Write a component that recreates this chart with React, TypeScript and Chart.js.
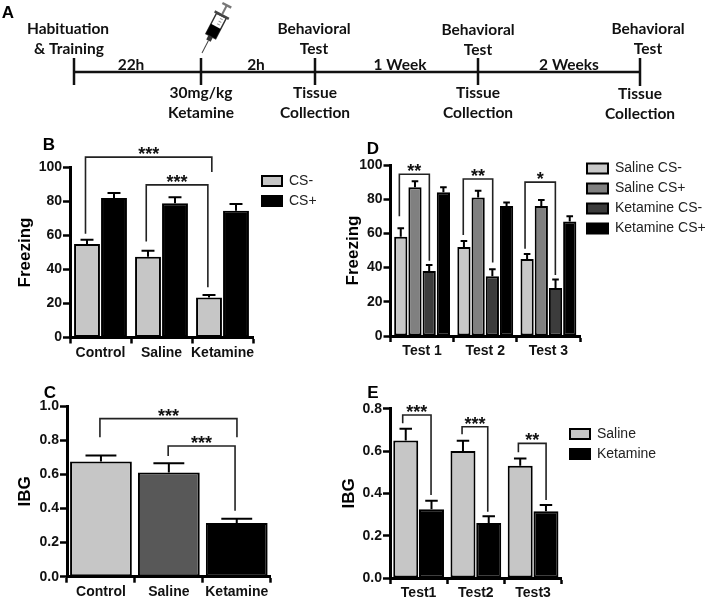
import React, { useEffect, useRef } from "react";
import { Chart, registerables } from "chart.js";

Chart.register(...registerables);

// ---------- Data ----------
const groupsB = ["Control", "Saline", "Ketamine"];
const csMinusB = [55, 47.5, 23.5];
const csMinusTopB = [57.5, 51, 25];
const csPlusB = [82, 79, 74.5];
const csPlusTopB = [85, 82.5, 78.5];

const groupsC = ["Control", "Saline", "Ketamine"];
const ibgC = [0.675, 0.61, 0.315];
const ibgTopC = [0.71, 0.665, 0.34];

const testsD = ["Test 1", "Test 2", "Test 3"];
const salineMinusD = [58, 52, 45];
const salineMinusTopD = [63, 55.5, 48];
const salinePlusD = [87, 81, 76];
const salinePlusTopD = [90.5, 85, 79.5];
const ketMinusD = [38, 35, 28];
const ketMinusTopD = [41.5, 39, 33];
const ketPlusD = [84, 76, 67];
const ketPlusTopD = [87, 78, 70];

const testsE = ["Test1", "Test2", "Test3"];
const salineE = [0.65, 0.6, 0.53];
const salineTopE = [0.705, 0.648, 0.565];
const ketamineE = [0.325, 0.26, 0.315];
const ketamineTopE = [0.365, 0.292, 0.345];

// bracket: [x from, x to, y left foot, y top, y right foot], in axis units
type Bracket = { span: number[]; stars: string };
const bracketsB: Bracket[] = [
  { span: [-0.246, 1.825, 61, 106.1, 97.3], stars: "***" },
  { span: [0.75, 1.76, 56.4, 89.8, 29.6], stars: "***" },
];
const bracketsC: Bracket[] = [
  { span: [-0.015, 2.003, 0.817, 0.926, 0.817], stars: "***" },
  { span: [0.99, 1.975, 0.707, 0.766, 0.387], stars: "***" },
];
const bracketsD: Bracket[] = [
  { span: [-0.36, 0.115, 70, 94.6, 44], stars: "**" },
  { span: [0.652, 1.118, 59, 91.8, 43], stars: "**" },
  { span: [1.63, 2.11, 51, 90, 35.7], stars: "*" },
];
const bracketsE: Bracket[] = [
  { span: [-0.278, 0.217, 0.731, 0.77, 0.392], stars: "***" },
  { span: [0.759, 1.208, 0.679, 0.715, 0.313], stars: "***" },
  { span: [1.743, 2.227, 0.594, 0.636, 0.369], stars: "**" },
];

// timeline, in the 708x130 units of panel A
const stops = [74, 201, 315, 478, 640];
const stopTickTop = [58, 58, 58, 58, 58];
const stopTickBottom = [85, 85, 85, 85, 86];
const timelineLabels: [string, number, number][] = [
  ["Habituation", 68, 29],
  ["& Training", 69, 49],
  ["22h", 131, 65],
  ["2h", 256, 65],
  ["1 Week", 400, 65],
  ["2 Weeks", 569, 65],
  ["Behavioral", 314, 29],
  ["Test", 314, 49],
  ["Behavioral", 478, 30],
  ["Test", 478, 50],
  ["Behavioral", 648, 29],
  ["Test", 648, 49],
  ["30mg/kg", 201, 93],
  ["Ketamine", 201, 113],
  ["Tissue", 315, 93],
  ["Collection", 315, 113],
  ["Tissue", 478, 93],
  ["Collection", 478, 113],
  ["Tissue", 640, 94],
  ["Collection", 640, 114],
];

const GREY_L = "#c6c6c6";
const SANS = "'Liberation Sans', Arial, sans-serif";

type Panel = {
  letter: string;
  letterAt: [number, number];
  box: [number, number, number, number];
  plot: [number, number, number, number]; // left, top, right, bottom in page pixels
  labels: string[];
  datasets: any[];
  max: number;
  step: number;
  decimals: number;
  title: string;
  titlePad: number;
  brackets: Bracket[];
  legendAt?: [number, number];
  legendBox?: number;
  categoryPercentage: number;
  barPercentage: number;
};

function series(label: string, data: number[], tops: number[], color: string) {
  return { label, data, tops, backgroundColor: color, borderColor: "#000", borderWidth: 2, borderSkipped: false };
}

const panels: Panel[] = [
  {
    letter: "B", letterAt: [49, 150], box: [0, 130, 345, 240], plot: [70, 167.5, 253, 337.5],
    labels: groupsB,
    datasets: [series("CS-", csMinusB, csMinusTopB, GREY_L), series("CS+", csPlusB, csPlusTopB, "#000")],
    max: 100, step: 20, decimals: 0, title: "Freezing", titlePad: 14.8, brackets: bracketsB,
    legendAt: [262, 174], legendBox: 20, categoryPercentage: 0.885, barPercentage: 0.96,
  },
  {
    letter: "D", letterAt: [373, 154], box: [335, 130, 373, 240], plot: [390.5, 165, 580, 336],
    labels: testsD,
    datasets: [
      series("Saline CS-", salineMinusD, salineMinusTopD, "#c8c8c8"),
      series("Saline CS+", salinePlusD, salinePlusTopD, "#808080"),
      series("Ketamine CS-", ketMinusD, ketMinusTopD, "#3c3c3c"),
      series("Ketamine CS+", ketPlusD, ketPlusTopD, "#000"),
    ],
    max: 100, step: 20, decimals: 0, title: "Freezing", titlePad: 7.8, brackets: bracketsD,
    legendAt: [587, 161.5], legendBox: 21, categoryPercentage: 0.9, barPercentage: 0.93,
  },
  {
    letter: "C", letterAt: [50, 398], box: [0, 375, 330, 225], plot: [67, 406, 270.7, 576.7],
    labels: groupsC,
    datasets: [
      {
        label: "IBG", data: ibgC, tops: ibgTopC,
        backgroundColor: [GREY_L, "#585858", "#000"], borderColor: "#000", borderWidth: 2, borderSkipped: false,
      },
    ],
    max: 1, step: 0.2, decimals: 1, title: "IBG", titlePad: 14.8, brackets: bracketsC,
    categoryPercentage: 1, barPercentage: 0.91,
  },
  {
    letter: "E", letterAt: [373, 398], box: [335, 375, 373, 225], plot: [390, 408.7, 561.7, 578],
    labels: testsE,
    datasets: [series("Saline", salineE, salineTopE, GREY_L), series("Ketamine", ketamineE, ketamineTopE, "#000")],
    max: 0.8, step: 0.2, decimals: 1, title: "IBG", titlePad: 3.8, brackets: bracketsE,
    legendAt: [570, 427], legendBox: 20, categoryPercentage: 0.9, barPercentage: 0.97,
  },
];

function marksPlugin(p: Panel) {
  return {
    id: "marks",
    beforeLayout(chart: any) {
      const l = chart.legend;
      if (!p.legendAt || !l || l.__pinned) return;
      l.__pinned = true;
      const fit = l.fit.bind(l);
      l.fit = () => {
        fit();
        l.width = 0;
      };
    },
    afterLayout(chart: any) {
      const l = chart.legend;
      if (!p.legendAt || !l) return;
      const pad = l.options.labels.padding;
      l.left = p.legendAt[0] - p.box[0] - pad;
      l.right = p.box[2];
      l.width = l.right - l.left;
      l.top = p.legendAt[1] - p.box[1] - pad;
      l.bottom = p.box[3];
      l.height = l.bottom - l.top;
    },
    afterDatasetsDraw(chart: any) {
      const { ctx } = chart;
      const xs = chart.scales.x;
      const ys = chart.scales.y;
      ctx.save();
      // error bars
      ctx.strokeStyle = "#000";
      ctx.lineWidth = 2;
      chart.data.datasets.forEach((d: any, i: number) => {
        chart.getDatasetMeta(i).data.forEach((bar: any, j: number) => {
          const top = ys.getPixelForValue(d.tops[j]);
          const half = bar.width / 4;
          ctx.beginPath();
          ctx.moveTo(bar.x, bar.y);
          ctx.lineTo(bar.x, top);
          ctx.moveTo(bar.x - half, top);
          ctx.lineTo(bar.x + half, top);
          ctx.stroke();
        });
      });
      // brackets
      ctx.lineWidth = 1.6;
      ctx.strokeStyle = "#222";
      p.brackets.forEach((b) => {
        const [x0, x1, yl, yt, yr] = b.span;
        const a = xs.getPixelForValue(x0);
        const c = xs.getPixelForValue(x1);
        const t = ys.getPixelForValue(yt);
        ctx.beginPath();
        ctx.moveTo(a, ys.getPixelForValue(yl));
        ctx.lineTo(a, t);
        ctx.lineTo(c, t);
        ctx.lineTo(c, ys.getPixelForValue(yr));
        ctx.stroke();
        ctx.fillStyle = "#111";
        ctx.font = `bold 18px ${SANS}`;
        ctx.textAlign = "center";
        ctx.textBaseline = "alphabetic";
        ctx.fillText(b.stars, (a + c) / 2, t + 3);
      });
      // panel letter
      ctx.fillStyle = "#000";
      ctx.font = `bold 17px ${SANS}`;
      ctx.textAlign = "center";
      ctx.textBaseline = "alphabetic";
      ctx.fillText(p.letter, p.letterAt[0] - p.box[0], p.letterAt[1] - p.box[1]);
      ctx.restore();
    },
  };
}

function drawSyringe(ctx: CanvasRenderingContext2D) {
  ctx.save();
  ctx.translate(202, 53);
  ctx.rotate((27.5 * Math.PI) / 180);
  // local frame: tip at origin, the syringe goes up along -y
  ctx.strokeStyle = "#444";
  ctx.lineWidth = 1;
  ctx.beginPath();
  ctx.moveTo(0, 0);
  ctx.lineTo(0, -14);
  ctx.stroke();
  ctx.fillStyle = "#333";
  ctx.fillRect(-2.5, -19, 5, 5);
  ctx.fillStyle = "#fff";
  ctx.strokeStyle = "#333";
  ctx.lineWidth = 1.4;
  ctx.fillRect(-5.5, -42, 11, 23);
  ctx.strokeRect(-5.5, -42, 11, 23);
  ctx.fillStyle = "#000";
  ctx.fillRect(-5.5, -30, 11, 11);
  ctx.strokeStyle = "#999";
  ctx.lineWidth = 1;
  for (let i = 0; i < 3; i++) {
    ctx.beginPath();
    ctx.moveTo(0, -33 - i * 3);
    ctx.lineTo(3, -33 - i * 3);
    ctx.stroke();
  }
  ctx.fillStyle = "#444";
  ctx.fillRect(-8, -44, 16, 2.5);
  ctx.strokeStyle = "#777";
  ctx.lineWidth = 2;
  ctx.beginPath();
  ctx.moveTo(0, -44);
  ctx.lineTo(0, -53);
  ctx.stroke();
  ctx.fillStyle = "#777";
  ctx.fillRect(-5, -55, 10, 2.5);
  ctx.restore();
}

const timelinePlugin = {
  id: "timeline",
  afterDatasetsDraw(chart: any) {
    const { ctx } = chart;
    const xs = chart.scales.x;
    const ys = chart.scales.y;
    ctx.save();
    ctx.fillStyle = "#111";
    ctx.font = "bold 15.5px Lato, sans-serif";
    ctx.textAlign = "center";
    ctx.textBaseline = "middle";
    timelineLabels.forEach(([t, x, y]) => ctx.fillText(t, xs.getPixelForValue(x), ys.getPixelForValue(y)));
    ctx.font = `bold 17px ${SANS}`;
    ctx.fillStyle = "#000";
    ctx.fillText("A", 8, 13);
    ctx.restore();
    drawSyringe(ctx);
  },
};

function panelConfig(p: Panel): any {
  const [bx, by, bw, bh] = p.box;
  const [pl, pt, pr, pb] = p.plot;
  return {
    type: "bar",
    data: { labels: p.labels, datasets: p.datasets },
    plugins: [marksPlugin(p)],
    options: {
      animation: false,
      responsive: false,
      datasets: { bar: { categoryPercentage: p.categoryPercentage, barPercentage: p.barPercentage } },
      layout: { autoPadding: false, padding: { top: pt - by, right: bw - (pr - bx), left: 0, bottom: 0 } },
      plugins: {
        tooltip: { enabled: false },
        title: { display: false },
        legend: p.legendAt
          ? {
              display: true,
              position: "right",
              align: "start",
              labels: {
                boxWidth: p.legendBox,
                boxHeight: 10,
                padding: 6,
                color: "#222",
                font: { family: SANS, size: 14 },
              },
            }
          : { display: false },
      },
      scales: {
        x: {
          type: "category",
          afterFit(s: any) {
            s.height = bh - (pb - by);
          },
          grid: { display: true, drawOnChartArea: false, drawTicks: true, tickLength: 6, tickWidth: 2.5, tickColor: "#000" },
          border: { display: true, color: "#000", width: 3 },
          ticks: { color: "#111", padding: 1, maxRotation: 0, autoSkip: false, font: { family: SANS, size: 14, weight: "bold" } },
        },
        y: {
          min: 0,
          max: p.max,
          afterFit(s: any) {
            s.width = pl - bx;
          },
          grid: { display: true, drawOnChartArea: false, drawTicks: true, tickLength: 7, tickWidth: 2.5, tickColor: "#000" },
          border: { display: true, color: "#000", width: 3 },
          title: {
            display: true,
            text: p.title,
            color: "#000",
            padding: { top: p.titlePad, bottom: 0 },
            font: { family: SANS, size: 17, weight: "bold" },
          },
          ticks: {
            stepSize: p.step,
            color: "#111",
            padding: 1,
            font: { family: SANS, size: 14, weight: "bold" },
            callback: (v: number) => Number(v).toFixed(p.decimals),
          },
        },
      },
    },
  };
}

function timelineConfig(): any {
  const datasets: any[] = [
    {
      label: "timeline",
      data: [
        { x: stops[0], y: 72 },
        { x: stops[stops.length - 1], y: 72 },
      ],
    },
    ...stops.map((x, i) => ({
      label: `stop ${i + 1}`,
      data: [
        { x, y: stopTickTop[i] },
        { x, y: stopTickBottom[i] },
      ],
    })),
  ].map((d) => ({ ...d, showLine: true, borderColor: "#111", borderWidth: 2.5, pointRadius: 0 }));
  return {
    type: "scatter",
    data: { datasets },
    plugins: [timelinePlugin],
    options: {
      animation: false,
      responsive: false,
      layout: { autoPadding: false, padding: 0 },
      plugins: { legend: { display: false }, tooltip: { enabled: false } },
      scales: {
        x: { type: "linear", min: 0, max: 708, display: false },
        y: { type: "linear", min: 0, max: 130, reverse: true, display: false },
      },
    },
  };
}

function ChartCanvas({ box, make }: { box: number[]; make: () => any }) {
  const ref = useRef<HTMLCanvasElement>(null);
  useEffect(() => {
    const chart = new Chart(ref.current as HTMLCanvasElement, make());
    return () => chart.destroy();
  }, []);
  return (
    <canvas
      ref={ref}
      width={box[2]}
      height={box[3]}
      style={{ position: "absolute", left: box[0], top: box[1], width: box[2], height: box[3], filter: "blur(0.45px)" }}
    />
  );
}

export default function App() {
  return (
    <div style={{ position: "fixed", left: 0, top: 0, width: 708, height: 600, background: "#fff", overflow: "hidden" }}>
      <ChartCanvas box={[0, 0, 708, 130]} make={timelineConfig} />
      {panels.map((p) => (
        <ChartCanvas key={p.letter} box={p.box} make={() => panelConfig(p)} />
      ))}
    </div>
  );
}
